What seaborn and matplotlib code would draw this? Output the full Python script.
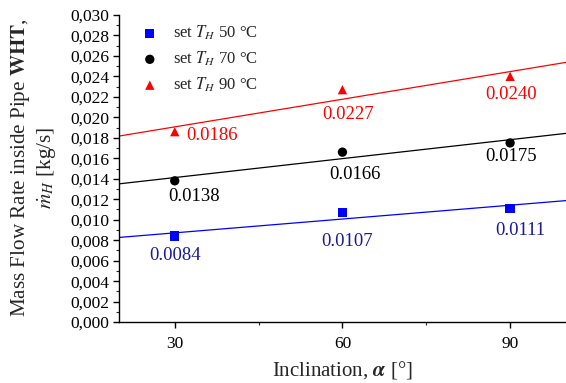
import numpy as np
import pandas as pd
import matplotlib
matplotlib.use("Agg")
import matplotlib.pyplot as plt
import seaborn as sns
from matplotlib.ticker import MultipleLocator, FixedLocator, FixedFormatter

sns.set_style("ticks")
plt.rcParams['font.family'] = ['Liberation Serif', 'DejaVu Serif']
plt.rcParams['mathtext.fontset'] = 'stix'

inclination = [30, 60, 90]
flow_50 = [0.0084, 0.0107, 0.0111]
flow_70 = [0.0138, 0.0166, 0.0175]
flow_90 = [0.0186, 0.0227, 0.0240]
series_labels = ["set $T_H$ 50 °C", "set $T_H$ 70 °C", "set $T_H$ 90 °C"]
x_ticks = [30, 60, 90]
y_ticks = [0.000, 0.002, 0.004, 0.006, 0.008, 0.010, 0.012, 0.014, 0.016,
           0.018, 0.020, 0.022, 0.024, 0.026, 0.028, 0.030]
y_tick_labels = [f"{v:.3f}".replace('.', ',') for v in y_ticks]

marker_colors = ["#0000FF", "#000000", "#FF0000"]
text_colors = ["#1A1A9A", "#000000", "#FF0000"]
markers = ["s", "o", "^"]
# label offsets (points) relative to each marker
offsets = [
    [(0, -14), (3, -21), (7, -16)],
    [(14, -11), (9, -16), (1, -10)],
    [(27, -3), (4, -18), (1, -13)],
]

fig = plt.figure(figsize=(5.66, 3.83), dpi=100)
ax = fig.add_axes([0.210, 0.159, 0.790, 0.802])
ax.set_xlim(20, 100)
ax.set_ylim(0, 0.030)

series = [flow_50, flow_70, flow_90]
for vals, lab, mc, tc, mk, offs in zip(series, series_labels, marker_colors,
                                        text_colors, markers, offsets):
    df = pd.DataFrame({"x": inclination, "y": vals})
    sns.regplot(data=df, x="x", y="y", ax=ax, scatter=False, ci=None,
                truncate=False, color=mc, line_kws={"lw": 0.9})
    sns.scatterplot(data=df, x="x", y="y", ax=ax, marker=mk, color=mc,
                    s=45, edgecolor='none', label=lab, zorder=5)
    for xv, yv, off in zip(inclination, vals, offs):
        ax.annotate(f"{yv:.4f}", (xv, yv), xytext=off, textcoords='offset points',
                    ha='center', va='center', color=tc, fontsize=13.5)

ax.set_xlim(20, 100)
ax.xaxis.set_major_locator(FixedLocator(x_ticks))
ax.xaxis.set_minor_locator(MultipleLocator(15))
ax.yaxis.set_major_locator(FixedLocator(y_ticks))
ax.yaxis.set_major_formatter(FixedFormatter(y_tick_labels))
ax.yaxis.set_minor_locator(MultipleLocator(0.001))
ax.tick_params(axis='both', which='major', direction='out', length=4, width=1,
               labelsize=12.5, colors='black')
ax.tick_params(axis='x', which='major', pad=6)
ax.tick_params(axis='y', which='major', pad=3)
ax.tick_params(axis='both', which='minor', direction='out', length=2.5, width=0.8)

for s in ['top', 'right']:
    ax.spines[s].set_visible(False)
for s in ['left', 'bottom']:
    ax.spines[s].set_linewidth(1.0)
    ax.spines[s].set_color('black')

ax.set_xlabel(r"Inclination, $\boldsymbol{\alpha}$ [°]", fontsize=15, labelpad=5)
ax.set_ylabel("Mass Flow Rate inside Pipe $\\mathbf{WHT}$,\n$\\dot{m}_H$ [kg/s]",
              fontsize=15.2, linespacing=1.2)
ax.yaxis.set_label_coords(-0.135, 0.503)

leg = ax.legend(loc='upper left', bbox_to_anchor=(0.017, 1.02), frameon=False,
                fontsize=12, handletextpad=0.9, labelspacing=0.45,
                handlelength=1.0)

fig.savefig("out.png", dpi=100)
